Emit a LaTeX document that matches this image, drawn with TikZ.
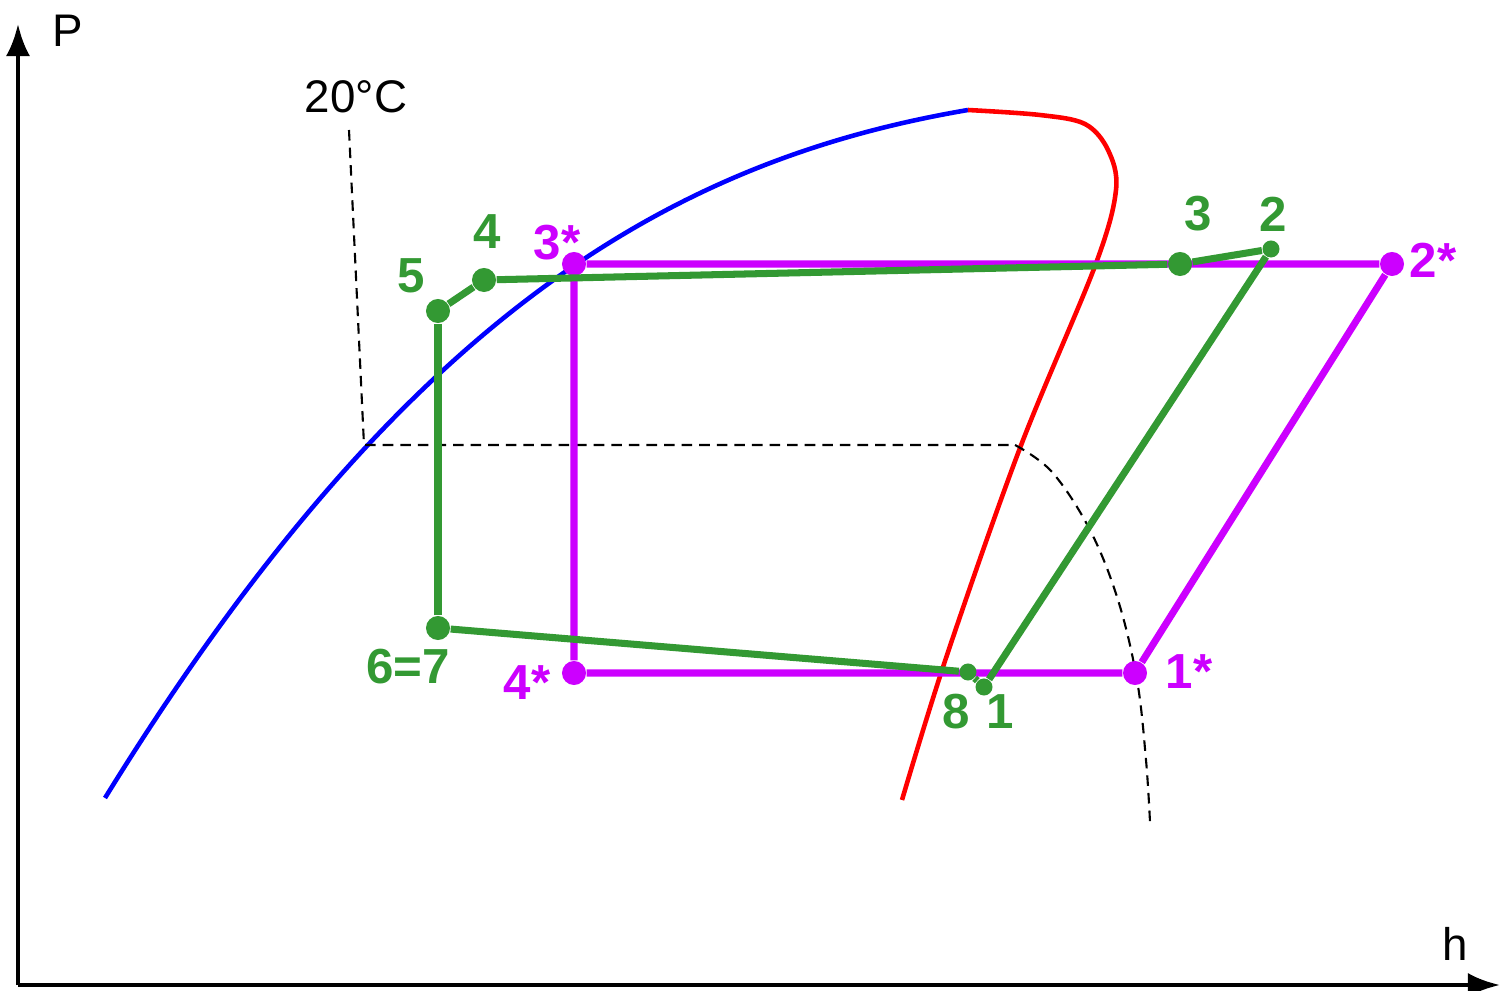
\documentclass[tikz,border=0pt]{standalone}
\usepackage{fontspec}
\setmainfont{Liberation Sans}
\usetikzlibrary{arrows.meta,positioning}
\definecolor{cyclegreen}{RGB}{51,153,51}
\definecolor{idealviolet}{RGB}{204,0,255}
\definecolor{liquidblue}{RGB}{0,0,255}
\definecolor{vaporred}{RGB}{255,0,0}
\tikzset{
	>=Latex,
	axisline/.style={
		line width=1.3pt,
		-{Latex[length=3.2mm,width=2.4mm]}
	},
	gdot/.style={
		circle,
		fill=cyclegreen,
		minimum size=2.4mm,
		inner sep=0pt
	},
	gdotsmall/.style={
		gdot,
		minimum size=1.7mm
	},
	vdot/.style={
		circle,
		fill=idealviolet,
		minimum size=2.4mm,
		inner sep=0pt
	},
	gpath/.style={
		draw=cyclegreen,
		line width=2pt
	},
	vpath/.style={
		draw=idealviolet,
		line width=2pt
	},
	dome/.style={
		line width=1.3pt
	},
	glabel/.style={
		text=cyclegreen,
		inner sep=0pt,
		font=\bfseries\fontsize{14}{14}\selectfont
	},
	vlabel/.style={
		glabel,
		text=idealviolet
	},
	axislabel/.style={
		inner sep=0pt,
		font=\fontsize{13}{13}\selectfont
	},
	isotherm/.style={
		line width=0.6pt,
		dash pattern=on 3pt off 2pt
	}
}

\begin{document}
\begin{tikzpicture}[x=0.01cm,y=-0.01cm]
	\useasboundingbox (0,0) rectangle (1502,991);
	
	% --- AXES ---
	\coordinate (O) at (18,985);
	\coordinate (Ptop) at (18,24);
	\coordinate (Hend) at (1500,985);
	\draw[axisline] (O) -- (Ptop);
	\draw[axisline] (O) -- (Hend);
	\node[axislabel] (Plab) at (68,31) {P};
	\node[axislabel] (hlab) at (1455,944) {h};
	
	% --- SATURATION DOME ---
	\coordinate (liqend) at (105,798);
	\coordinate (crit) at (968,110);
	\draw[dome, liquidblue] (liqend) .. controls (405,312) and (675,160) .. (crit);
	\draw[dome, vaporred] plot[smooth, tension=0.55] coordinates {
		(968,110) (1040,115) (1085,124) (1108,150) (1116,190)
		(1095,266) (1020,448) (946,658) (902,800)};
	
	% --- 20 C ISOTHERM ---
	\node[axislabel] (tlab) at (356,97) {20°C};
	\coordinate (iso1) at (349,130);
	\coordinate (iso2) at (364,445);
	\coordinate (iso3) at (1015,445);
	\draw[isotherm] (iso1) -- (iso2) -- (iso3);
	\draw[isotherm] plot[smooth, tension=0.6] coordinates {
		(1015,445) (1052,472) (1090,530) (1118,600) (1137,680) (1146,760) (1150,822)};
	
	% --- IDEAL CYCLE (VIOLET) ---
	\node[vdot] (v3) at (574,264) {};
	\node[vdot] (v2) at (1392,264) {};
	\node[vdot] (v1) at (1135,673) {};
	\node[vdot] (v4) at (574,673) {};
	\draw[vpath] (v3) -- (v2) -- (v1) -- (v4) -- (v3);
	
	\node[vlabel] at (557,243) {3*};
	\node[vlabel] at (1433,260) {2*};
	\node[vlabel] at (1189,672) {1*};
	\node[vlabel] at (527,683) {4*};
	
	% --- REAL CYCLE (GREEN) ---
	\node[gdot] (g5) at (438,311) {};
	\node[gdot] (g4) at (484,280) {};
	\node[gdot] (g3) at (1180,264) {};
	\node[gdotsmall] (g2) at (1271,249) {};
	\node[gdotsmall] (g1) at (984,687) {};
	\node[gdotsmall] (g8) at (968,672) {};
	\node[gdot] (g67) at (438,628) {};
	\draw[gpath] (g5) -- (g4);
	\draw[gpath] (g4) -- (g3);
	\draw[gpath] (g3) -- (g2);
	\draw[gpath] (g2) -- (g1);
	\draw[gpath] (g1) -- (g8);
	\draw[gpath] (g8) -- (g67);
	\draw[gpath] (g67) -- (g5);
	
	\node[glabel] at (411,276) {5};
	\node[glabel] at (487,232) {4};
	\node[glabel] at (1198,214) {3};
	\node[glabel] at (1273,214) {2};
	\node[glabel] at (1000,712) {1};
	\node[glabel] at (956,712) {8};
	\node[glabel] at (408,667) {6=7};
	
\end{tikzpicture}
\end{document}
